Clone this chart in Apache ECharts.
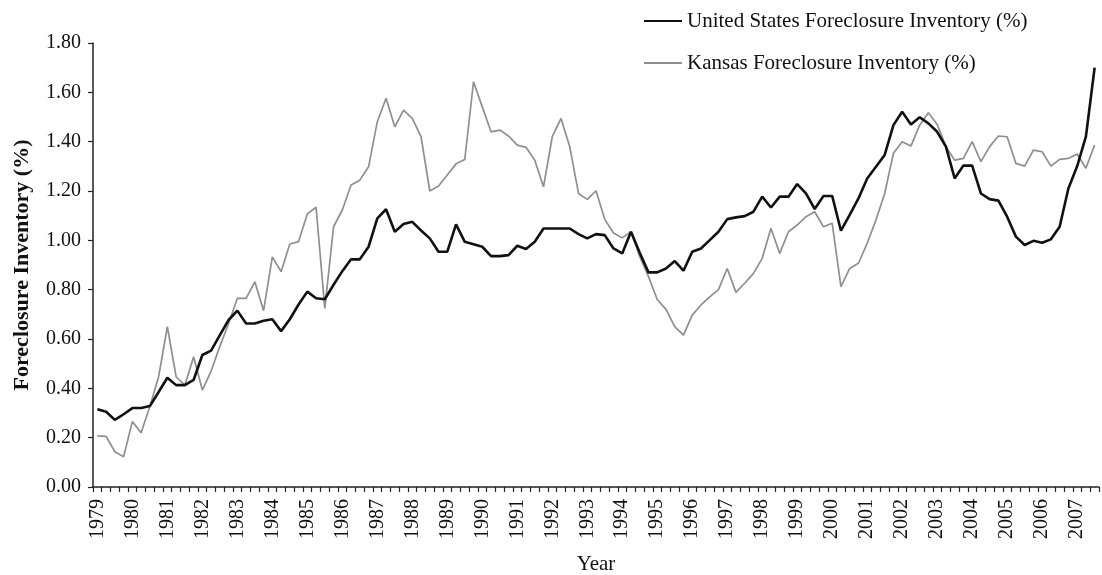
<!DOCTYPE html>
<html>
<head>
<meta charset="utf-8">
<script src="https://cdn.jsdelivr.net/npm/echarts@6/dist/echarts.min.js"></script>
<style>
html,body{margin:0;padding:0;background:#fff;}
#chart{width:1102px;height:575px;}
</style>
</head>
<body>
<div id="chart"></div>
<script>
// Tick labels (years) and quarters
const years = [1979,1980,1981,1982,1983,1984,1985,1986,1987,1988,1989,1990,1991,1992,1993,1994,1995,1996,1997,1998,1999,2000,2001,2002,2003,2004,2005,2006,2007];
const quarters = ['Q1','Q2','Q3','Q4'];
const lastQuarterCount = 115; // 1979Q1 .. 2007Q3

const usInventory = [
0.315,0.305,0.272,0.295,0.32,0.32,0.328,0.385,0.443,0.413,0.413,0.434,0.535,0.553,0.616,0.677,
0.715,0.663,0.663,0.674,0.68,0.632,0.68,0.74,0.792,0.765,0.761,0.82,0.875,0.923,0.923,0.974,
1.089,1.126,1.035,1.066,1.075,1.04,1.008,0.954,0.954,1.065,0.994,0.984,0.974,0.936,0.936,0.94,
0.978,0.965,0.994,1.048,1.048,1.048,1.048,1.025,1.008,1.025,1.021,0.967,0.947,1.035,0.95,0.87,
0.87,0.886,0.916,0.877,0.954,0.967,1.001,1.035,1.086,1.093,1.098,1.116,1.177,1.133,1.177,1.177,
1.228,1.19,1.127,1.18,1.18,1.039,1.103,1.17,1.251,1.298,1.346,1.467,1.521,1.47,1.499,1.474,
1.44,1.38,1.251,1.303,1.303,1.19,1.167,1.161,1.096,1.015,0.981,0.998,0.99,1.004,1.055,1.21,
1.30,1.42,1.70
];

const kansasInventory = [
0.207,0.205,0.143,0.123,0.265,0.22,0.326,0.447,0.65,0.447,0.413,0.528,0.393,0.47,0.57,0.663,
0.765,0.765,0.832,0.715,0.933,0.873,0.985,0.995,1.107,1.134,0.724,1.055,1.123,1.224,1.244,1.298,
1.481,1.576,1.46,1.528,1.494,1.42,1.2,1.22,1.265,1.31,1.328,1.643,1.541,1.44,1.447,1.423,
1.386,1.377,1.325,1.217,1.42,1.494,1.379,1.19,1.166,1.201,1.085,1.03,1.01,1.035,0.934,0.853,
0.76,0.72,0.65,0.616,0.697,0.738,0.771,0.80,0.886,0.789,0.826,0.866,0.927,1.049,0.947,1.035,
1.062,1.096,1.116,1.055,1.069,0.812,0.886,0.907,0.988,1.082,1.19,1.353,1.4,1.382,1.467,1.517,
1.47,1.38,1.325,1.332,1.4,1.319,1.38,1.423,1.42,1.312,1.301,1.366,1.359,1.301,1.328,1.332,
1.35,1.292,1.386
];

const yTicks = {min:0, max:1.8, interval:0.2};

const categories = [];
years.forEach(y => quarters.forEach(q => categories.push(y + ' ' + q)));
categories.length = lastQuarterCount;

const serif = '"Liberation Serif", "DejaVu Serif", serif';
const chart = echarts.init(document.getElementById('chart'), null, {renderer:'canvas'});
chart.setOption({
  animation: false,
  backgroundColor: '#ffffff',
  textStyle: {fontFamily: serif, color: '#111'},
  grid: {left: 93, right: 3, top: 43, bottom: 88, containLabel: false, outerBoundsMode: 'none'},
  legend: {
    orient: 'vertical',
    left: 638,
    top: 5,
    itemWidth: 38,
    itemHeight: 14,
    itemGap: 20,
    itemStyle: {opacity: 0},
    textStyle: {fontFamily: serif, fontSize: 21, lineHeight: 22, color: '#111'},
    data: ['United States Foreclosure Inventory (%)', 'Kansas Foreclosure Inventory (%)']
  },
  xAxis: {
    type: 'category',
    data: categories,
    boundaryGap: true,
    name: 'Year',
    nameLocation: 'middle',
    nameGap: 67,
    nameTextStyle: {fontFamily: serif, fontSize: 21, color: '#111'},
    axisLine: {show: true, lineStyle: {color: '#222', width: 1.5}},
    axisTick: {show: true, interval: 0, length: 5, inside: false, lineStyle: {color: '#222', width: 1.2}},
    axisLabel: {
      interval: 3,
      rotate: 90,
      margin: 12,
      fontFamily: serif,
      fontSize: 20,
      color: '#111',
      formatter: v => v.slice(0, 4)
    },
    splitLine: {show: false}
  },
  yAxis: {
    type: 'value',
    min: yTicks.min,
    max: yTicks.max,
    interval: yTicks.interval,
    name: 'Foreclosure Inventory (%)',
    nameLocation: 'middle',
    nameRotate: 90,
    nameGap: 60,
    nameTextStyle: {fontFamily: serif, fontSize: 22, fontWeight: 'bold', color: '#111'},
    axisLine: {show: true, lineStyle: {color: '#222', width: 1.5}},
    axisTick: {show: true, length: 5, lineStyle: {color: '#222', width: 1.2}},
    axisLabel: {fontFamily: serif, fontSize: 20, color: '#111', margin: 12, formatter: v => v.toFixed(2)},
    splitLine: {show: false}
  },
  series: [
    {
      name: 'United States Foreclosure Inventory (%)',
      type: 'line',
      data: usInventory,
      symbol: 'none',
      lineStyle: {color: '#111', width: 2.6},
      itemStyle: {color: '#111'},
      z: 3
    },
    {
      name: 'Kansas Foreclosure Inventory (%)',
      type: 'line',
      data: kansasInventory,
      symbol: 'none',
      lineStyle: {color: '#8f8f8f', width: 1.7},
      itemStyle: {color: '#8f8f8f'},
      z: 2
    }
  ]
});
</script>
</body>
</html>
